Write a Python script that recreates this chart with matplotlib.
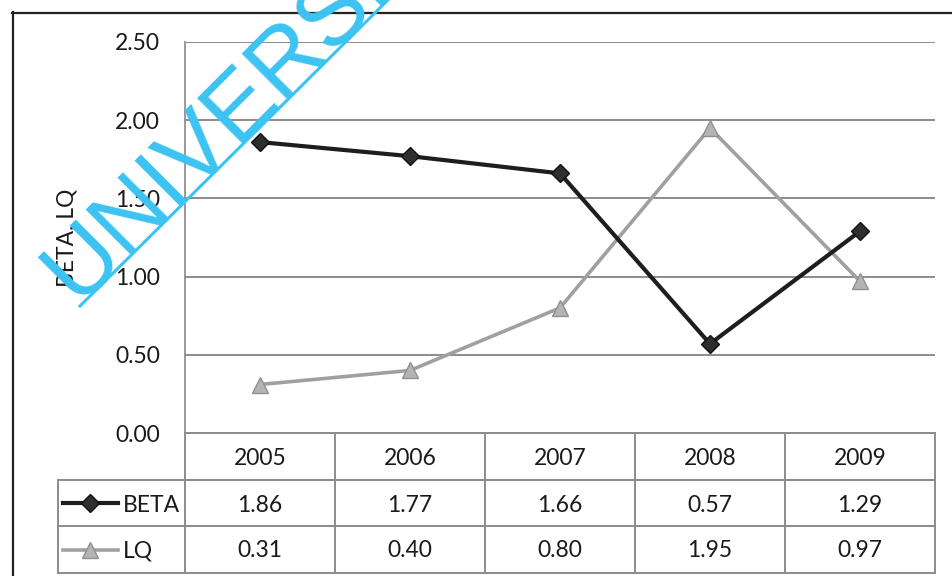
import matplotlib
matplotlib.use("Agg")
import matplotlib.pyplot as plt
from matplotlib.lines import Line2D

plt.rcParams['font.family'] = ['Lato', 'DejaVu Sans']

years = ["2005", "2006", "2007", "2008", "2009"]
beta = [1.86, 1.77, 1.66, 0.57, 1.29]
lq = [0.31, 0.40, 0.80, 1.95, 0.97]
yticks = [0.0, 0.5, 1.0, 1.5, 2.0, 2.5]
series_names = ["BETA", "LQ"]

W, H = 952, 576
fig = plt.figure(figsize=(W/100, H/100), dpi=100)
fig.patch.set_facecolor("white")

def fx(px): return px / W
def fy(py): return 1 - py / H

txt = "#1a1a1a"
fs = 16.5

# Outer frame (top and left visible)
fig.add_artist(Line2D([fx(12), fx(952)], [fy(12.5), fy(12.5)], color="#222", lw=1.6))
fig.add_artist(Line2D([fx(12.5), fx(12.5)], [fy(12), fy(576)], color="#222", lw=1.6))

L, R, T, B = 185, 935, 42, 433
ax = fig.add_axes([fx(L), fy(B), fx(R) - fx(L), fy(T) - fy(B)])
x = list(range(len(years)))
ax.set_xlim(-0.5, len(years) - 0.5)
ax.set_ylim(0, 2.5)
ax.set_yticks(yticks)
ax.set_yticklabels([f"{v:.2f}" for v in yticks], fontsize=fs, color=txt)
ax.set_xticks([])
ax.tick_params(axis="y", length=0, pad=18)
for s in ["top", "right", "bottom"]:
    ax.spines[s].set_visible(False)
ax.spines["left"].set_color("#888")
ax.spines["left"].set_linewidth(1.2)
ax.grid(axis="y", color="#8c8c8c", lw=1.4)
ax.set_axisbelow(True)
ax.set_ylabel("BETA, LQ", fontsize=fs, color=txt)
ax.yaxis.set_label_coords((77 - L) / (R - L), 0.5)

ax.plot(x, lq, color="#a0a0a0", lw=2.6, marker="^", markersize=11,
        markerfacecolor="#b4b4b4", markeredgecolor="#909090", zorder=3)
ax.plot(x, beta, color="#1e1e1e", lw=3.0, marker="D", markersize=9.5,
        markerfacecolor="#2e2e2e", markeredgecolor="#111", zorder=4)

# Data table
TL, TB = 58, 573
tax = fig.add_axes([fx(TL), fy(TB), fx(R) - fx(TL), fy(B) - fy(TB)])
xl = -0.5 - (L - TL) / 150.0
tax.set_xlim(xl, len(years) - 0.5)
tax.set_ylim(3, 0)
tax.axis("off")
gc = "#8c8c8c"
glw = 1.4
tax.plot([-0.5, len(years) - 0.5], [0, 0], color=gc, lw=glw, clip_on=False)
for r in [1, 2, 3]:
    tax.plot([xl, len(years) - 0.5], [r, r], color=gc, lw=glw, clip_on=False)
tax.plot([xl, xl], [1, 3], color=gc, lw=glw, clip_on=False)
for c in range(len(years) + 1):
    tax.plot([c - 0.5, c - 0.5], [0, 3], color=gc, lw=glw, clip_on=False)

for i, yv in enumerate(years):
    tax.text(i, 0.55, yv, ha="center", va="center", fontsize=fs, color=txt)
for i, v in enumerate(beta):
    tax.text(i, 1.55, f"{v:.2f}", ha="center", va="center", fontsize=fs, color=txt)
for i, v in enumerate(lq):
    tax.text(i, 2.52, f"{v:.2f}", ha="center", va="center", fontsize=fs, color=txt)

# legend keys in table
kx0 = xl + 5 / 150.0
kx1 = xl + 60 / 150.0
tax.plot([kx0, kx1], [1.5, 1.5], color="#1e1e1e", lw=3.0, clip_on=False)
tax.plot([xl + 32 / 150.0], [1.5], marker="D", markersize=9.5, color="#2e2e2e",
         markeredgecolor="#111", clip_on=False)
tax.plot([kx0, kx1], [2.5, 2.5], color="#a0a0a0", lw=2.6, clip_on=False)
tax.plot([xl + 32 / 150.0], [2.5], marker="^", markersize=11, color="#b4b4b4",
         markeredgecolor="#909090", clip_on=False)
tax.text(xl + 65 / 150.0, 1.55, series_names[0], ha="left", va="center", fontsize=fs, color=txt)
tax.text(xl + 65 / 150.0, 2.52, series_names[1], ha="left", va="center", fontsize=fs, color=txt)

# Watermark
wm_color = "#3cc3f2"
fig.text(fx(77), fy(303), "UNIVERSI", rotation=45, fontsize=68,
         color=wm_color, family="Liberation Sans", ha="left", va="baseline",
         rotation_mode="anchor")
fig.add_artist(Line2D([fx(80), fx(400)], [fy(306), fy(-12)], color=wm_color, lw=2.2))

fig.savefig("out.png", dpi=100, facecolor="white")
